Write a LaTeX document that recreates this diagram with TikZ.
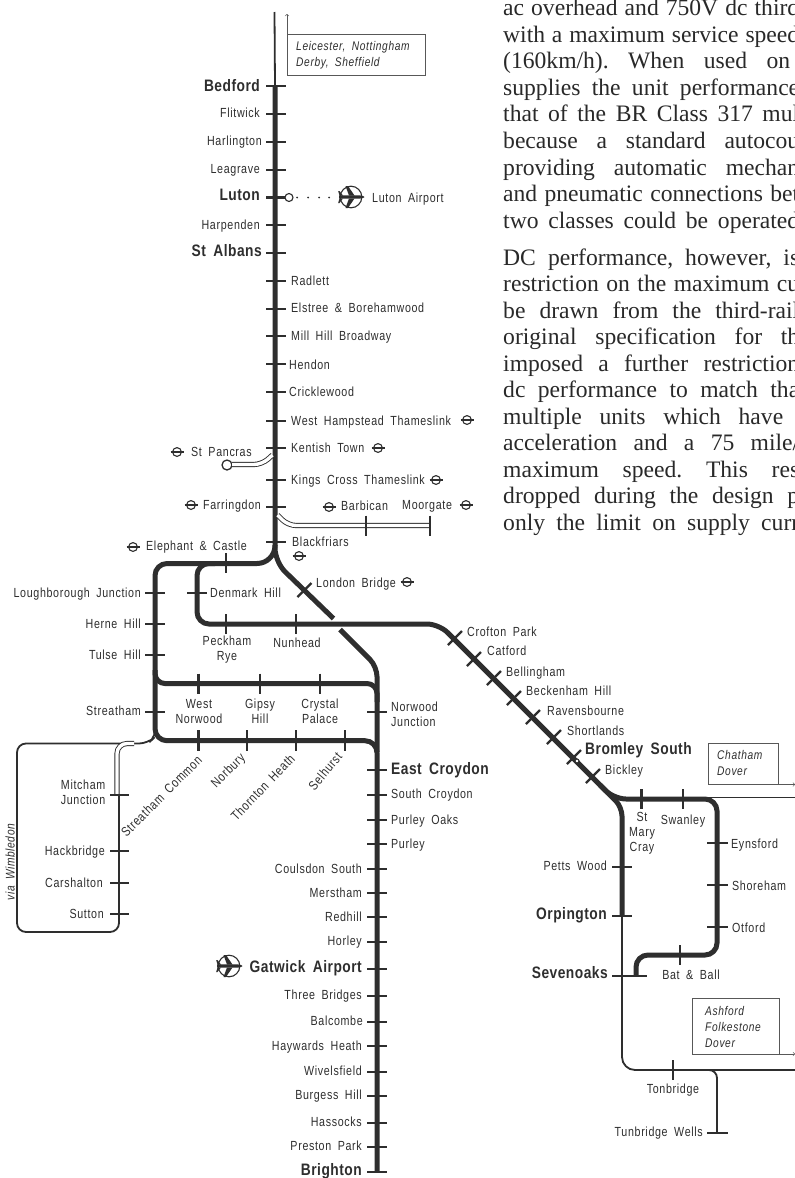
\documentclass[tikz,border=0pt]{standalone}
\usepackage{fontspec}
\setmainfont{Liberation Serif}
\frenchspacing
\newfontfamily\labf[FakeStretch=.81,LetterSpace=5,WordSpace=1.8]{Liberation Sans}
\newfontfamily\labbf[FakeStretch=.83,LetterSpace=3,WordSpace=1.7]{Liberation Sans}
\newcommand{\labs}{\labf\fontsize{13.2}{15}\selectfont}
\newcommand{\labb}{\labbf\bfseries\fontsize{16.6}{18}\selectfont}
\newcommand{\labi}{\labf\itshape\fontsize{12.6}{16}\selectfont}
\definecolor{ink}{HTML}{2e2e2e}
\tikzset{
  rail/.style={draw=ink,line width=5pt},
  thinrail/.style={draw=ink,line width=1.8pt},
  tick/.style={draw=ink,line width=2.4pt},
  boxline/.style={draw=ink!80,line width=.6pt},
  dbl/.style={draw=ink,line width=.9pt,double=white,double distance=3.4pt},
  sym/.style={draw=ink,line width=1.1pt},
  lw/.style={inner sep=0pt,anchor=mid west,yshift=-2pt,text=ink,font=\labs},
  le/.style={inner sep=0pt,anchor=mid east,yshift=-2pt,text=ink,font=\labs},
  lc/.style={inner sep=0pt,anchor=mid,yshift=-2pt,text=ink,font=\labs},
  bw/.style={inner sep=0pt,anchor=mid west,yshift=-2.5pt,text=ink,font=\labb},
  be/.style={inner sep=0pt,anchor=mid east,yshift=-2.5pt,text=ink,font=\labb},
  mw/.style={inner sep=0pt,anchor=west,align=left,text=ink,font=\labs},
  me/.style={inner sep=0pt,anchor=east,align=right,text=ink,font=\labs},
  mc/.style={inner sep=0pt,anchor=center,align=center,text=ink,font=\labs},
  iw/.style={inner sep=0pt,anchor=west,align=left,text=ink,font=\labi},
}
\newcommand{\hticks}[3]{\foreach \yy in {#3}{\draw[tick] (#1,\yy) -- (#2,\yy);}}
\newcommand{\vticks}[3]{\foreach \xx in {#3}{\draw[tick] (\xx,#1) -- (\xx,#2);}}
\newcommand{\dticks}[1]{\foreach \xx/\yy in {#1}{\draw[tick] (\xx-7,\yy+7) -- (\xx+7,\yy-7);}}
\newcommand{\ugs}[2]{\draw[sym] (#1,#2) circle (4.4); \draw[sym] (#1-6.5,#2) -- (#1+6.5,#2);}
\newcommand{\planesym}[2]{\begin{scope}[shift={(#1,#2)}]
  \draw[sym] (0,0) circle (10.8);
  \fill[ink] (-12,-1.6) -- (9,-1.6) .. controls (12,-1.4) and (13,-.5) .. (13.5,0) .. controls (13,.5) and (12,1.4) .. (9,1.6) -- (-12,1.6) -- cycle;
  \fill[ink] (3.5,-1.5) -- (-3,-11) -- (-5.5,-11) -- (-2,-1.5) -- cycle;
  \fill[ink] (3.5,1.5) -- (-3,11) -- (-5.5,11) -- (-2,1.5) -- cycle;
  \fill[ink] (-8,-1.5) -- (-11.5,-6) -- (-12.8,-6) -- (-11.5,-1.5) -- cycle;
  \fill[ink] (-8,1.5) -- (-11.5,6) -- (-12.8,6) -- (-11.5,1.5) -- cycle;
\end{scope}}
\newcommand{\tline}[4]{\node[inner sep=0pt,anchor=base west,text=ink!90!black,font=\fontsize{23.6}{26}\selectfont] (#1) at (503,#2) {\makebox[#3pt][s]{#4}};}
\begin{document}
\begin{tikzpicture}[x=1pt,y=-1pt]
\useasboundingbox (0,0) rectangle (795,1178);
\clip (0,0) rectangle (795,1178);
\fill[white] (0,0) rectangle (795,1178);
% ---------- running text
\tline{t1}{15.5}{296}{ac overhead and 750V dc third}
\tline{t2}{42}{296}{with a maximum service speed}
\tline{t3}{68.5}{287}{(160km/h). When used on}
\tline{t4}{95}{296}{supplies the unit performance}
\tline{t5}{121.5}{296}{that of the BR Class 317 mul}
\tline{t6}{148}{296}{because a standard autocou}
\tline{t7}{175}{296}{providing automatic mechan}
\tline{t8}{201.5}{296}{and pneumatic connections bet}
\tline{t9}{228}{296}{two classes could be operated}
\tline{t10}{265}{296}{DC performance, however, is}
\tline{t11}{291.5}{296}{restriction on the maximum cu}
\tline{t12}{318}{296}{be drawn from the third-rail}
\tline{t13}{344.5}{296}{original specification for th}
\tline{t14}{371}{296}{imposed a further restriction}
\tline{t15}{397.5}{296}{dc performance to match tha}
\tline{t16}{424}{280}{multiple units which have}
\tline{t17}{450.5}{296}{acceleration and a 75 mile/}
\tline{t18}{477}{296}{maximum speed. This res}
\tline{t19}{503.5}{296}{dropped during the design p}
\tline{t20}{530}{296}{only the limit on supply curr}
% ---------- lines
\coordinate (top) at (274.5,12);
\coordinate (bedford) at (275,86);
\draw[thinrail] (top) -- (bedford);
\draw[rail,line join=round] (bedford) [rounded corners=18pt] -- (275,563.5) [rounded corners=12pt] -- (155,563.5) -- (155,740.7) -- (377,740.7) -- (377,1172);
\draw[rail,rounded corners=10pt] (155,670) -- (155,683.5) -- (377,683.5) -- (377,702);
\draw[rail,rounded corners=14pt] (275,545) -- (275,562) -- (333.5,618.5);
\draw[rail,rounded corners=10pt] (340,629.5) -- (377,666.5) -- (377,752);
\draw[rail,rounded corners=12pt] (215,563.5) -- (197,563.5) -- (197,624) -- (439,624) -- (614,799) [rounded corners=12pt] -- (717,799) -- (717,955) -- (636,955) -- (636,976);
\draw[rail,rounded corners=9pt] (600,785) -- (622,807) -- (622,916);
\draw[thinrail,rounded corners=13pt] (622,914) -- (622,1070) -- (795,1070);
\draw[thinrail,rounded corners=8pt] (706,1070) -- (717,1070) -- (717,1133);
\draw[thinrail] (705,797.5) -- (795,797.5);
% via Wimbledon loop
\draw[thinrail,rounded corners=9pt] (156,729) -- (156,736) -- (148,743.5) -- (17,743.5) -- (17,932) -- (119,932) -- (119,795);
\draw[dbl,rounded corners=10pt] (117,795) -- (117,743.5) -- (134,743.5);
% St Pancras and Barbican spurs
\draw[sym,line width=1.3pt,fill=white] (227,465) circle (5);
\draw[dbl,rounded corners=8pt] (232,464.5) -- (262,464.5) -- (272.5,455);
\draw[dbl,rounded corners=8pt] (277.5,515) -- (288,525.5) -- (430,525.5);
\vticks{515.5}{535.5}{366,430}
% boxes with arrows
\draw[boxline] (287,34) -- (425,34) -- (425,75) -- (287,75) -- (287,34);
\draw[boxline,->] (287,34) -- (287,14);
\draw[boxline,->] (708,784.5) -- (708,743) -- (778,743) -- (778,784.5) -- (708,784.5) (778,784.5) -- (795,784.5);
\draw[boxline,->] (692,1054) -- (692,998) -- (779,998) -- (779,1054) -- (692,1054) (779,1054) -- (795,1054);
% ---------- ticks
\hticks{266}{286}{86,114,142,170,197.5,225,253,281,309,336,364,392,421,448,480,507,542}
\hticks{145}{165}{593,624,655,712}
\hticks{187}{207}{593}
\hticks{367}{387}{712,770,795,820,844,869,893,917,942,969,996,1022,1046,1072,1096,1123,1147,1172}
\hticks{110}{129}{795,851,883,914}
\hticks{612}{632}{867,916}
\hticks{612}{647}{976}
\hticks{707}{728}{843,885,927,1133}
\vticks{553}{573}{226}
\vticks{614}{634}{226,296}
\vticks{673.5}{693.5}{198.5,260,320}
\vticks{730}{751}{198.5,247,296,345}
\vticks{789}{809}{641.5,683}
\vticks{945}{965}{680}
\vticks{1060}{1080}{673}
\dticks{304.5/590,455/638,474/659,494/678,514/698,533/717,554/737,574/757,593/776}
\draw[sym,fill=white] (577,761) circle (2);
% ---------- Luton airport
\draw[sym,fill=white] (289,197.5) circle (4);
\foreach \xx in {297,308,319,329}{\fill[ink] (\xx,197.5) circle (1);}
\planesym{351}{197}
\planesym{229}{966}
% ---------- underground symbols
\ugs{467}{420}\ugs{378}{448}\ugs{436}{480}\ugs{177}{452}\ugs{191}{505}\ugs{329}{507}\ugs{466}{505}\ugs{299}{556}\ugs{133}{547}\ugs{407}{582}
% ---------- labels
\node[be] (Bedford) at (260,87) {Bedford};
\node[le] (Flitwick) at (260,113) {Flitwick};
\node[le] (Harlington) at (262,141) {Harlington};
\node[le] (Leagrave) at (260,169) {Leagrave};
\node[be] (Luton) at (260,196) {Luton};
\node[le] (Harpenden) at (260,225) {Harpenden};
\node[be] (StAlbans) at (262,252) {St Albans};
\node[lw] (LutonAirport) at (372,198) {Luton Airport};
\node[lw] (Radlett) at (291,281) {Radlett};
\node[lw] (Elstree) at (291,308) {Elstree \& Borehamwood};
\node[lw] (MillHill) at (291,336) {Mill Hill Broadway};
\node[lw] (Hendon) at (289,365) {Hendon};
\node[lw] (Cricklewood) at (289,392) {Cricklewood};
\node[lw] (WestHampstead) at (291,421) {West Hampstead Thameslink};
\node[lw] (Kentish) at (291,448) {Kentish Town};
\node[lw] (KingsCross) at (291,480) {Kings Cross Thameslink};
\node[lw] (StPancras) at (191,452) {St Pancras};
\node[lw] (Farringdon) at (203,505) {Farringdon};
\node[lw] (Barbican) at (341,506) {Barbican};
\node[lw] (Moorgate) at (402,505.5) {Moorgate};
\node[lw] (Blackfriars) at (292,542) {Blackfriars};
\node[lw] (Elephant) at (146,546) {Elephant \& Castle};
\node[lw] (LondonBridge) at (316,583) {London Bridge};
\node[lw] (Denmark) at (210,593) {Denmark Hill};
\node[le] (Loughborough) at (141,593) {Loughborough Junction};
\node[le] (Herne) at (141,624) {Herne Hill};
\node[le] (Tulse) at (141,655) {Tulse Hill};
\node[le] (Streatham) at (141,711) {Streatham};
\node[mc] (Peckham) at (227,650) {Peckham\\Rye};
\node[lc] (Nunhead) at (297,643) {Nunhead};
\node[mc] (WestNorwood) at (199,711.5) {West\\Norwood};
\node[mc] (Gipsy) at (260,711.5) {Gipsy\\Hill};
\node[mc] (Crystal) at (320,711) {Crystal\\Palace};
\node[mw] (Norwood) at (391,714) {Norwood\\Junction};
\node[bw] (EastCroydon) at (391,770) {East Croydon};
\node[lw] (SouthCroydon) at (391,794.5) {South Croydon};
\node[lw] (PurleyOaks) at (391,820) {Purley Oaks};
\node[lw] (Purley) at (391,844) {Purley};
\node[lc,rotate=45] (StreathamCommon) at (163,796) {Streatham Common};
\node[lc,rotate=45] (Norbury) at (229.5,770) {Norbury};
\node[lc,rotate=46] (Thornton) at (264.5,787) {Thornton Heath};
\node[lc,rotate=50] (Selhurst) at (327,771) {Selhurst};
\node[me] (Mitcham) at (105.5,792.5) {Mitcham\\Junction};
\node[le] (Hackbridge) at (105,851) {Hackbridge};
\node[le] (Carshalton) at (103,883) {Carshalton};
\node[le] (Sutton) at (104,914) {Sutton};
\node[iw,anchor=center,rotate=90] (Wimbledon) at (10,862) {via Wimbledon};
\node[le] (Coulsdon) at (362,869) {Coulsdon South};
\node[le] (Merstham) at (362,893) {Merstham};
\node[le] (Redhill) at (362,917) {Redhill};
\node[le] (Horley) at (362,941) {Horley};
\node[be] (Gatwick) at (362,968) {Gatwick Airport};
\node[le] (ThreeBridges) at (362,995) {Three Bridges};
\node[le] (Balcombe) at (363,1021) {Balcombe};
\node[le] (Haywards) at (362,1046) {Haywards Heath};
\node[le] (Wivelsfield) at (362,1071) {Wivelsfield};
\node[le] (Burgess) at (362,1095) {Burgess Hill};
\node[le] (Hassocks) at (362,1122) {Hassocks};
\node[le] (Preston) at (362,1146) {Preston Park};
\node[be] (Brighton) at (362,1171) {Brighton};
\node[lw] (Crofton) at (467,632) {Crofton Park};
\node[lw] (Catford) at (487,651) {Catford};
\node[lw] (Bellingham) at (506,672) {Bellingham};
\node[lw] (Beckenham) at (526,691) {Beckenham Hill};
\node[lw] (Ravensbourne) at (547,711) {Ravensbourne};
\node[lw] (Shortlands) at (567,731) {Shortlands};
\node[bw] (Bromley) at (585,750) {Bromley South};
\node[lw] (Bickley) at (605,770) {Bickley};
\node[mc] (StMary) at (642,833.5) {St\\Mary\\Cray};
\node[lc] (Swanley) at (683,820) {Swanley};
\node[lw] (Eynsford) at (731,844) {Eynsford};
\node[lw] (Shoreham) at (732,886) {Shoreham};
\node[lw] (Otford) at (732,928) {Otford};
\node[le] (Petts) at (607,866.5) {Petts Wood};
\node[be] (Orpington) at (607,915) {Orpington};
\node[be] (Sevenoaks) at (608,974) {Sevenoaks};
\node[lc] (BatBall) at (691,975) {Bat \& Ball};
\node[lc] (Tonbridge) at (673,1089) {Tonbridge};
\node[le] (Tunbridge) at (703,1132) {Tunbridge Wells};
\node[iw] (Leicester) at (296,55) {Leicester, Nottingham\\Derby, Sheffield};
\node[iw] (Chatham) at (717,763) {Chatham\\Dover};
\node[iw] (Ashford) at (705,1027) {Ashford\\Folkestone\\Dover};
\end{tikzpicture}
\end{document}
